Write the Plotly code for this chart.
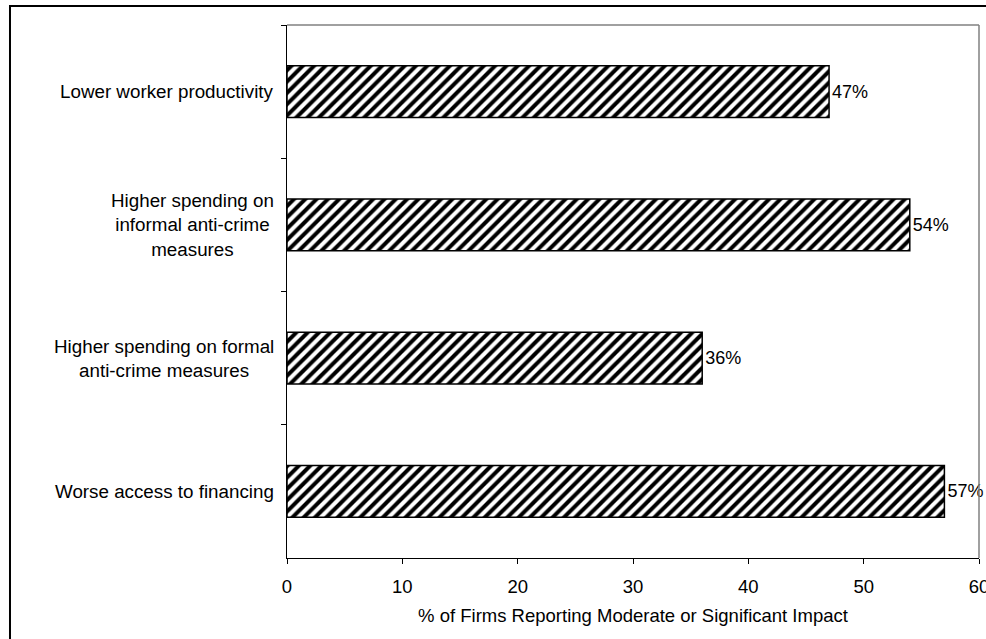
import plotly.graph_objects as go

# Impacts of crime, listed from top to bottom
categories = [
    "Lower worker productivity",
    "Higher spending on informal anti-crime measures",
    "Higher spending on formal anti-crime measures",
    "Worse access to financing",
]
# Multi-line versions of the category labels
category_labels = [
    "Lower worker productivity",
    "Higher spending on<br>informal anti-crime<br>measures",
    "Higher spending on formal<br>anti-crime measures",
    "Worse access to financing",
]
share_pct = [47, 54, 36, 57]
x_ticks = [0, 10, 20, 30, 40, 50, 60]

FONT = "Liberation Sans, Arial, sans-serif"

fig = go.Figure(
    go.Bar(
        y=categories,
        x=share_pct,
        orientation="h",
        width=0.39,
        marker=dict(
            color="white",
            line=dict(color="black", width=1.5),
            pattern=dict(shape="/", fgcolor="black", bgcolor="white",
                         fgopacity=1, fillmode="replace",
                         size=8, solidity=0.5),
        ),
        text=[f"{v}%" for v in share_pct],
        textposition="outside",
        textfont=dict(family=FONT, size=18, color="black"),
        cliponaxis=False,
        constraintext="none",
        hoverinfo="skip",
    )
)

# Category labels, centred within each block and right-anchored at the axis
for cat, lab in zip(categories, category_labels):
    fig.add_annotation(
        x=0, xref="x", y=cat, yref="y",
        text=lab, showarrow=False,
        xanchor="right", yanchor="middle", align="center",
        xshift=-11,
        font=dict(family=FONT, size=18.8, color="black"),
    )

# Plot-area frame (top and right edges)
fig.add_shape(type="line", xref="paper", yref="paper", x0=0, x1=1, y0=1, y1=1,
              line=dict(color="#808080", width=1.5))
fig.add_shape(type="line", xref="paper", yref="paper", x0=1, x1=1, y0=0, y1=1,
              line=dict(color="#808080", width=1.5))

# Outer chart border
fig.add_shape(type="rect", xref="paper", yref="paper",
              x0=-0.4003, x1=1.02, y0=-0.17, y1=1.0356,
              line=dict(color="black", width=2), fillcolor="rgba(0,0,0,0)",
              layer="below")

fig.update_layout(
    width=986, height=639,
    margin=dict(l=287, r=7, t=25, b=81, autoexpand=False),
    paper_bgcolor="white", plot_bgcolor="white",
    showlegend=False,
    font=dict(family=FONT, size=18.5, color="black"),
    xaxis=dict(
        range=[0, 60], tickvals=x_ticks,
        automargin=False,
        ticks="outside", ticklen=5, tickcolor="black", tickwidth=1,
        ticklabelstandoff=7, ticklabeloverflow="allow",
        showline=True, linecolor="black", linewidth=1,
        showgrid=False, zeroline=False,
        tickfont=dict(family=FONT, size=18.5, color="black"),
        title=dict(text="% of Firms Reporting Moderate or Significant Impact",
                   font=dict(family=FONT, size=18.5, color="black"),
                   standoff=12),
    ),
    yaxis=dict(
        autorange="reversed",
        automargin=False,
        tickson="boundaries",
        ticks="outside", ticklen=5, tickcolor="black", tickwidth=1,
        showticklabels=False,
        showline=True, linecolor="black", linewidth=1,
        showgrid=False, zeroline=False,
    ),
)

fig.write_html("out.html")
